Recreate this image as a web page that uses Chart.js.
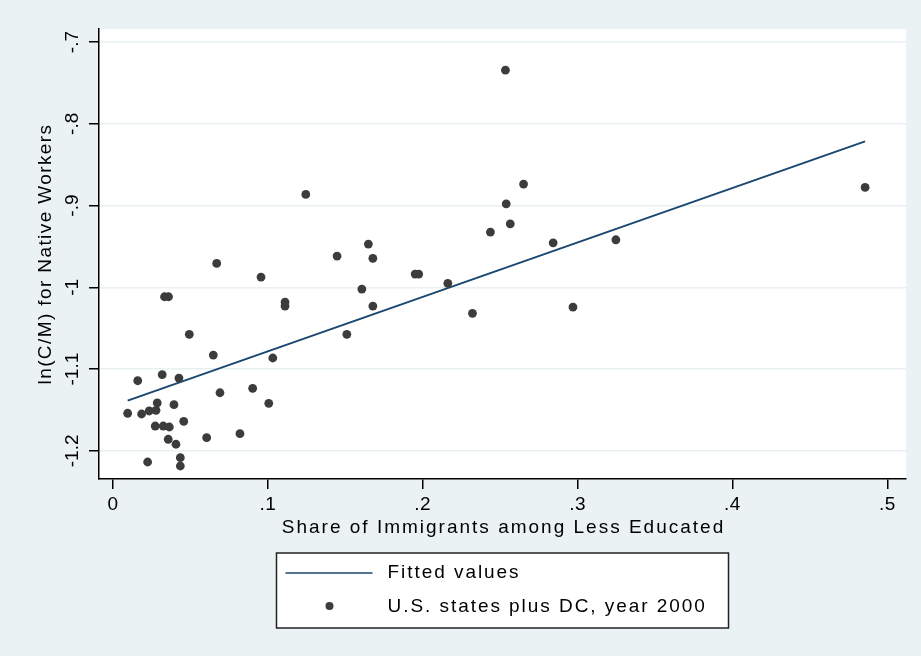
<!DOCTYPE html>
<html>
<head>
<meta charset="utf-8">
<script src="https://cdn.jsdelivr.net/npm/chart.js@4.4.1/dist/chart.umd.min.js"></script>
<style>
  html, body { margin: 0; padding: 0; background: #eaf2f3; }
  #wrap { width: 921px; height: 656px; }
</style>
</head>
<body>
<div id="wrap"><canvas id="chart" width="921" height="656"></canvas></div>
<script>
// share of immigrants among less educated (x) and ln(C/M) for native workers (y)
const shareImmigrants = [
  0.0648, 0.1032, 0.0160, 0.0318, 0.0426, 0.0691, 0.0902, 0.1006, 0.0286, 0.0394,
  0.0095, 0.0185, 0.0234, 0.0278, 0.0457, 0.0273, 0.0325, 0.0364, 0.0357, 0.0407,
  0.0605, 0.0820, 0.0224, 0.0435, 0.0435, 0.0670, 0.0956, 0.1447, 0.0333, 0.0359,
  0.1111, 0.1111, 0.0493, 0.1510, 0.1245, 0.1649, 0.1678, 0.1951, 0.1974, 0.2162,
  0.2437, 0.1607, 0.1678, 0.2321, 0.2534, 0.2651, 0.2539, 0.2565, 0.2842, 0.3247,
  0.2970, 0.4856
];
const lnCM = [
  -1.0828, -1.0864, -1.1142, -1.1068, -1.1109, -1.1289, -1.1235, -1.1418, -1.1414, -1.1435,
  -1.1540, -1.1549, -1.1512, -1.1504, -1.1638, -1.1696, -1.1696, -1.1708, -1.1858, -1.1919,
  -1.1839, -1.1790, -1.2136, -1.2083, -1.2185, -0.9707, -0.9874, -0.9617, -1.0115, -1.0115,
  -1.0180, -1.0229, -1.0575, -1.0575, -0.8863, -0.9471, -0.9645, -0.9837, -0.9837, -0.9951,
  -0.9324, -1.0021, -1.0229, -1.0318, -0.7344, -0.8737, -0.8978, -0.9223, -0.9455, -0.9418,
  -1.0241, -0.8778
];
// fitted line at the smallest and largest share
const fitX = [0.0095, 0.4856];
const fitY = [-1.1386, -0.8215];

const xTicks = [0, 0.1, 0.2, 0.3, 0.4, 0.5];
const xTickLabels = ["0", ".1", ".2", ".3", ".4", ".5"];
const yTicks = [-0.7, -0.8, -0.9, -1.0, -1.1, -1.2];
const yTickLabels = ["-.7", "-.8", "-.9", "-1", "-1.1", "-1.2"];

const xTitle = "Share of Immigrants among Less Educated";
const yTitle = "ln(C/M) for Native Workers";
const fitLabel = "Fitted values";
const pointLabel = "U.S. states plus DC, year 2000";

const FONT = '19px "Liberation Sans", Arial, sans-serif';

// paints background, tick labels, axis titles and the boxed legend
const stataLook = {
  id: "stataLook",
  beforeDraw(chart) {
    const { ctx, chartArea: a } = chart;
    ctx.save();
    ctx.fillStyle = "#eaf2f3";
    ctx.fillRect(0, 0, chart.width, chart.height);
    ctx.fillStyle = "#ffffff";
    ctx.fillRect(a.left, a.top, a.right - a.left, a.bottom - a.top);
    ctx.restore();
  },
  afterDraw(chart) {
    const { ctx, chartArea: a, scales } = chart;
    ctx.save();
    ctx.fillStyle = "#000";
    ctx.font = FONT;
    ctx.textBaseline = "middle";
    ctx.textAlign = "center";

    // x tick labels
    ctx.letterSpacing = "0.5px";
    xTicks.forEach((v, i) => {
      ctx.fillText(xTickLabels[i], scales.x.getPixelForValue(v), a.bottom + 26);
    });
    // x title
    ctx.letterSpacing = "2px";
    ctx.fillText(xTitle, (a.left + a.right) / 2 + 1, a.bottom + 49);

    // y tick labels, rotated
    ctx.letterSpacing = "0px";
    yTicks.forEach((v, i) => {
      ctx.save();
      ctx.translate(a.left - 26, scales.y.getPixelForValue(v));
      ctx.rotate(-Math.PI / 2);
      ctx.fillText(yTickLabels[i], 0, 0);
      ctx.restore();
    });
    // y title
    ctx.letterSpacing = "1.4px";
    ctx.save();
    ctx.translate(a.left - 53, (a.top + a.bottom) / 2);
    ctx.rotate(-Math.PI / 2);
    ctx.fillText(yTitle, 0, 0);
    ctx.restore();

    // legend box
    const cx = (a.left + a.right) / 2;
    const bx = cx - 226, by = a.bottom + 74, bw = 452, bh = 75;
    ctx.fillStyle = "#ffffff";
    ctx.fillRect(bx, by, bw, bh);
    ctx.strokeStyle = "#222";
    ctx.lineWidth = 1.5;
    ctx.strokeRect(bx, by, bw, bh);

    const lineDs = chart.data.datasets[1];
    const ptDs = chart.data.datasets[0];
    ctx.strokeStyle = lineDs.borderColor;
    ctx.lineWidth = 1.5;
    ctx.beginPath();
    ctx.moveTo(bx + 9, by + 20);
    ctx.lineTo(bx + 96, by + 20);
    ctx.stroke();

    ctx.fillStyle = ptDs.backgroundColor;
    ctx.beginPath();
    ctx.arc(bx + 53, by + 53, 4, 0, Math.PI * 2);
    ctx.fill();

    ctx.fillStyle = "#000";
    ctx.textAlign = "left";
    ctx.letterSpacing = "1.95px";
    ctx.fillText(lineDs.label, bx + 111, by + 20);
    ctx.fillText(ptDs.label, bx + 111, by + 54);
    ctx.restore();
  }
};

const points = shareImmigrants.map((x, i) => ({ x: x, y: lnCM[i] }));
const fitted = fitX.map((x, i) => ({ x: x, y: fitY[i] }));

new Chart(document.getElementById("chart"), {
  type: "scatter",
  data: {
    datasets: [
      {
        label: pointLabel,
        data: points,
        backgroundColor: "#3c3c3c",
        borderWidth: 0,
        pointRadius: 4.4,
        order: 1
      },
      {
        label: fitLabel,
        type: "line",
        data: fitted,
        borderColor: "#1a476f",
        borderWidth: 2,
        pointRadius: 0,
        fill: false,
        order: 2
      }
    ]
  },
  options: {
    responsive: false,
    animation: false,
    layout: { padding: { top: 29, right: 15, left: 0, bottom: 0 } },
    plugins: {
      legend: { display: false },
      tooltip: { enabled: false }
    },
    scales: {
      x: {
        type: "linear",
        min: -0.009,
        max: 0.512,
        afterBuildTicks: (s) => { s.ticks = xTicks.map(v => ({ value: v })); },
        afterFit: (s) => { s.height = 177; },
        ticks: { display: false },
        grid: { drawOnChartArea: false, drawTicks: true, tickLength: 10, tickColor: "#000", lineWidth: 1.5 },
        border: { color: "#000", width: 1.5 }
      },
      y: {
        type: "linear",
        min: -1.2344,
        max: -0.684,
        afterBuildTicks: (s) => { s.ticks = yTicks.map(v => ({ value: v })); },
        afterFit: (s) => { s.width = 99; },
        ticks: { display: false },
        grid: { color: "#e9f0f1", drawTicks: true, tickLength: 10, tickColor: "#000", lineWidth: 1.5 },
        border: { color: "#000", width: 1.5 }
      }
    }
  },
  plugins: [stataLook]
});
</script>
</body>
</html>
